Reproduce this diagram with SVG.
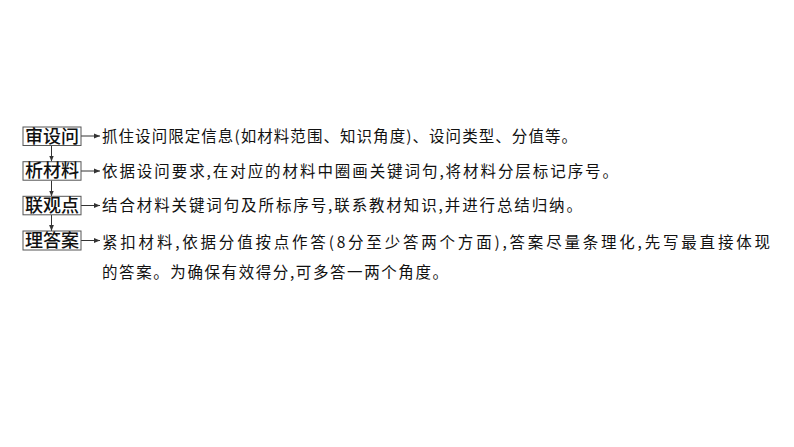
<svg xmlns="http://www.w3.org/2000/svg" width="794" height="447" viewBox="0 0 794 447">
<style>
.box{fill:#fff;stroke:#555;stroke-width:1}
.lab{font-family:"Noto Sans CJK SC","Noto Sans",sans-serif;font-size:18px;font-weight:500;fill:#111;text-anchor:middle}
.txt{font-family:"Noto Sans CJK SC","Noto Sans",sans-serif;font-size:15.5px;fill:#111}
.con{stroke:#333;stroke-width:1;fill:none;marker-end:url(#ah)}
</style>
<defs>
<marker id="ah" viewBox="0 0 10 10" refX="10" refY="5" markerWidth="6" markerHeight="6" markerUnits="userSpaceOnUse" orient="auto">
<path d="M0,1 L10,5 L0,9 Z" fill="#333"/>
</marker>
</defs>
<rect width="794" height="447" fill="#fff"/>
<g id="connectors">
<line class="con" x1="51.5" y1="145.5" x2="51.5" y2="161.5"/>
<line class="con" x1="51.5" y1="180.5" x2="51.5" y2="196.5"/>
<line class="con" x1="51.5" y1="215" x2="51.5" y2="231"/>
<line class="con" x1="81" y1="136" x2="100" y2="136"/>
<line class="con" x1="81" y1="171" x2="100" y2="171"/>
<line class="con" x1="81" y1="205.5" x2="100" y2="205.5"/>
<line class="con" x1="81" y1="240.5" x2="100" y2="240.5"/>
</g>
<g id="node1">
<rect class="box" x="23" y="127" width="58" height="18.5"/>
<text class="lab" x="52" y="142.5">审设问</text>
<text class="txt" x="102" y="141.5" textLength="475" lengthAdjust="spacing">抓住设问限定信息(如材料范围、知识角度)、设问类型、分值等。</text>
</g>
<g id="node2">
<rect class="box" x="23" y="161.7" width="58" height="18.5"/>
<text class="lab" x="52" y="177.2">析材料</text>
<text class="txt" x="102" y="176.5" textLength="516" lengthAdjust="spacing">依据设问要求,在对应的材料中圈画关键词句,将材料分层标记序号。</text>
</g>
<g id="node3">
<rect class="box" x="23" y="196.3" width="58" height="18.5"/>
<text class="lab" x="52" y="211.8">联观点</text>
<text class="txt" x="102" y="211" textLength="480" lengthAdjust="spacing">结合材料关键词句及所标序号,联系教材知识,并进行总结归纳。</text>
</g>
<g id="node4">
<rect class="box" x="23" y="231" width="58" height="19"/>
<text class="lab" x="52" y="246.8">理答案</text>
<text class="txt" x="102" y="247.5" textLength="668" lengthAdjust="spacing">紧扣材料,依据分值按点作答(8分至少答两个方面),答案尽量条理化,先写最直接体现</text>
<text class="txt" x="102" y="278" textLength="346" lengthAdjust="spacing">的答案。为确保有效得分,可多答一两个角度。</text>
</g>
</svg>
